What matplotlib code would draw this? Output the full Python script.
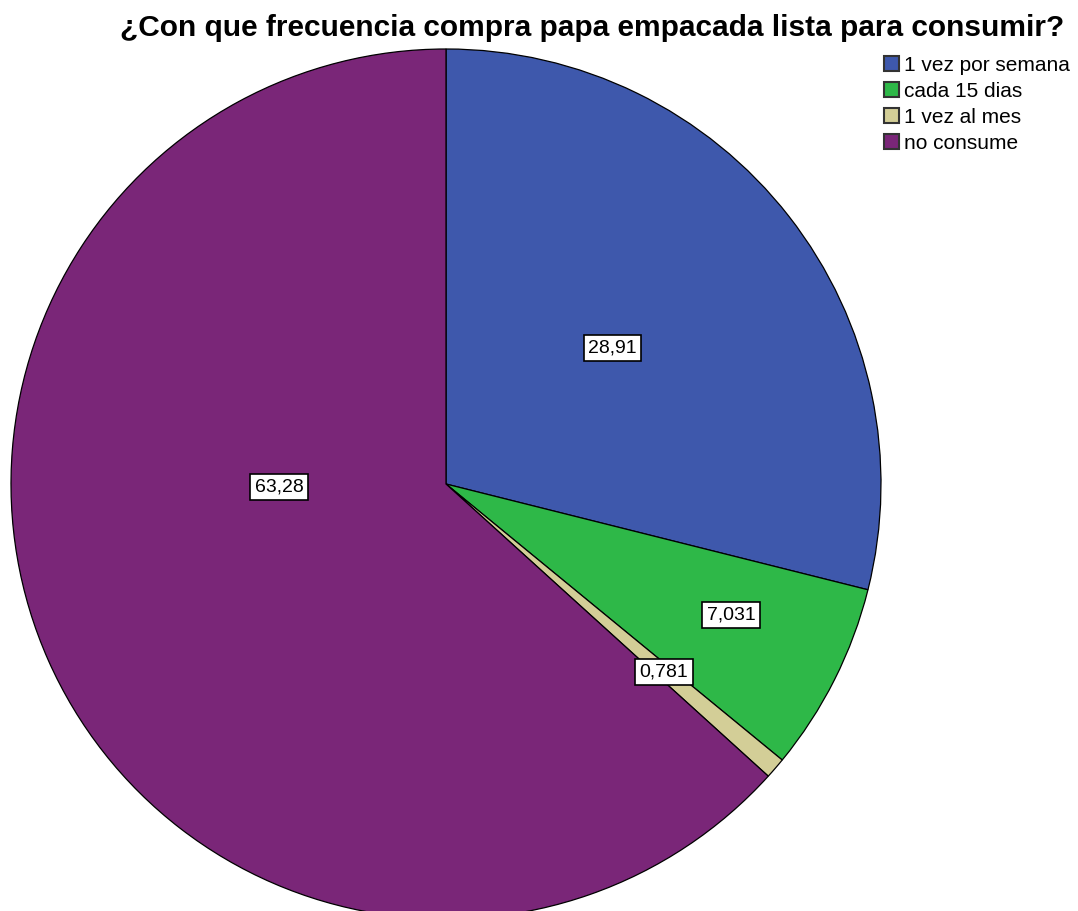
import matplotlib
matplotlib.use("Agg")
import matplotlib.pyplot as plt
from matplotlib.patches import Patch

plt.rcParams['font.family'] = ['Liberation Sans', 'DejaVu Sans']

categorias = ["1 vez por semana", "cada 15 dias", "1 vez al mes", "no consume"]
porcentajes = [28.91, 7.031, 0.781, 63.28]
etiquetas = ["28,91", "7,031", "0,781", "63,28"]
colores = ["#3E58AC", "#2EB848", "#D3CE97", "#7A2678"]
# where each value box sits inside the pie (x, y in radius units)
pos_etiquetas = [(0.382, 0.313), (0.655, -0.301), (0.501, -0.432), (-0.384, -0.007)]

fig = plt.figure(figsize=(10.78, 9.11), dpi=100)
W, H = 1078, 911
cx, cy, r = 446, 484, 435
ax = fig.add_axes([(cx - r) / W, (H - cy - r) / H, 2 * r / W, 2 * r / H])

ax.pie(porcentajes, colors=colores, startangle=90, counterclock=False,
       radius=1, wedgeprops=dict(edgecolor="black", linewidth=0.9))
ax.set_xlim(-1, 1)
ax.set_ylim(-1, 1)
ax.set_aspect("equal")
ax.axis("off")

for txt, (x, y) in zip(etiquetas, pos_etiquetas):
    ax.text(x, y, txt, ha="center", va="center", fontsize=14,
            bbox=dict(boxstyle="square,pad=0.22", fc="white", ec="black", lw=1.2))

fig.text(592 / W, 1 - 28 / H, "¿Con que frecuencia compra papa empacada lista para consumir?",
         ha="center", va="center", fontsize=21.5, fontweight="bold")

handles = [Patch(facecolor=c, edgecolor="#333333", linewidth=1.5) for c in colores]
fig.legend(handles, categorias, loc="upper left", bbox_to_anchor=(884 / W, 1 - 56 / H),
           frameon=False, fontsize=15, handlelength=0.7, handleheight=0.7,
           handletextpad=0.25, labelspacing=0.33, borderpad=0, borderaxespad=0)

fig.savefig("out.png", dpi=100)
